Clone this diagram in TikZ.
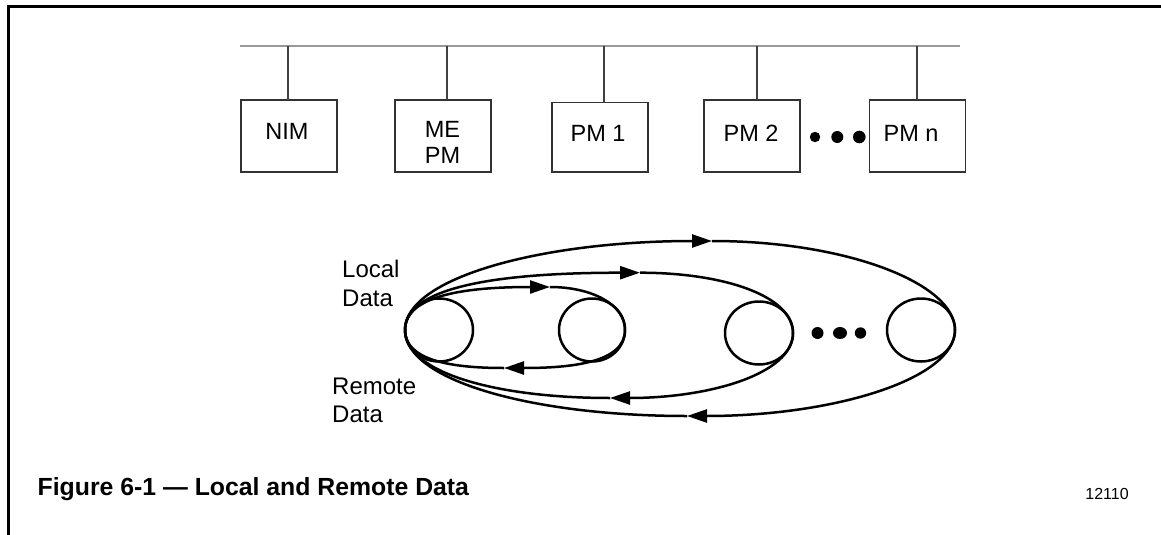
\documentclass[tikz,border=0pt]{standalone}
\usepackage{fontspec}
\setmainfont{Liberation Sans}
\usetikzlibrary{arrows.meta,shapes.geometric}

\begin{document}
\begin{tikzpicture}[x=1pt,y=-1pt,
  frame/.style={line width=3pt, line join=miter},
  bus/.style={draw=black!40, line width=2pt},
  drop/.style={draw=black!75, line width=1.1pt},
  box/.style={draw=black!80, line width=1.3pt, minimum width=96pt,
    minimum height=72pt, inner sep=0pt, outer sep=0pt},
  lbl/.style={font=\fontsize{23.5}{25.6}\selectfont, inner sep=0pt, align=center},
  side/.style={font=\fontsize{24}{28.4}\selectfont, inner sep=0pt, align=left},
  station/.style={ellipse, draw, line width=2.5pt, minimum width=68pt,
    minimum height=63pt, inner sep=0pt, outer sep=0pt},
  flow/.style={line width=2.5pt},
  tip/.style={-{Triangle[length=20pt,width=13pt]}}]

\useasboundingbox (0,0) rectangle (1161,535);

% page frame
\draw[frame] (1161,6.5) -- (8.5,6.5) -- (8.5,535);

% network bus with the modules hanging from it
\coordinate (busL) at (240,46);
\coordinate (busR) at (960,46);
\draw[bus] (busL) -- (busR);

\node[box] (nim) at (289,136) {};
\node[box] (mepm) at (443,136) {};
\node[box, minimum height=69.5pt] (pm1) at (600,137.25) {};
\node[box] (pm2) at (752,136) {};
\node[box] (pmn) at (917.5,136) {};

\node[lbl, anchor=base] (nimtxt) at (287,139.5) {NIM};
\node[lbl, anchor=south] (mepmtxt) at (442.5,163.3) {ME\\PM};
\node[lbl, anchor=base] (pm1txt) at (598,141.7) {PM 1};
\node[lbl, anchor=base] (pm2txt) at (751,141.7) {PM 2};
\node[lbl, anchor=base] (pmntxt) at (911,141.7) {PM n};

\coordinate (t1) at (288,46);
\coordinate (t2) at (447,46);
\coordinate (t3) at (604,46);
\coordinate (t4) at (757,46);
\coordinate (t5) at (917,46);
\draw[drop] (t1) -- (t1 |- nim.north);
\draw[drop] (t2) -- (t2 |- mepm.north);
\draw[drop] (t3) -- (t3 |- pm1.north);
\draw[drop] (t4) -- (t4 |- pm2.north);
\draw[drop] (t5) -- (t5 |- pmn.north);

\fill (815,137) circle[radius=5.2pt];
\fill (837.3,137) circle[radius=6pt];
\fill (859.3,137) circle[radius=6.3pt];

% data stations
\node[station] (c1) at (439,330) {};
\node[station, minimum width=66pt] (c2) at (592,330) {};
\node[station] (c3) at (759,333) {};
\node[station] (c4) at (921,330) {};

\fill (817.5,333) circle[radius=6pt];
\fill (840,333) ellipse[x radius=7pt, y radius=6pt];
\fill (860.5,333) circle[radius=5.7pt];

% outer loop: first station to the last one and back
\coordinate (ot) at (712,241);
\coordinate (ob) at (687,416);
\draw[flow, tip] (c1.west) .. controls +(0,-52.5) and +(-169,0) .. (ot);
\draw[flow] (ot) .. controls +(134,0) and +(0,-46.7) .. (c4.east);
\draw[flow, tip] (c4.east) .. controls +(0,49) and +(147,0) .. (ob);
\draw[flow] (ob) .. controls +(-155,0) and +(0,50.4) .. (c1.west);

% middle loop
\coordinate (mt) at (640,272.7);
\coordinate (mb) at (610,398);
\draw[flow, tip] (c1.west) .. controls +(0,-46) and +(-129,0) .. (mt);
\draw[flow] (mt) .. controls +(84,0) and +(0,-37) .. (c3.east);
\draw[flow, tip] (c3.east) .. controls +(0,40.7) and +(100,0) .. (mb);
\draw[flow] (mb) .. controls +(-113,0) and +(0,43) .. (c1.west);

% inner loop
\coordinate (it) at (550,287);
\coordinate (ib) at (504,368);
\draw[flow, tip] (c1.west) .. controls +(0,-36) and +(-80,0) .. (it);
\draw[flow] (it) .. controls +(41,0) and +(0,-26) .. (c2.east);
\draw[flow, tip] (c2.east) .. controls +(0,33) and +(66,0) .. (ib);
\draw[flow] (ib) .. controls +(-54,0) and +(0,30) .. (c1.west);

\node[side, anchor=south west] (local) at (342,306.7) {Local\\Data};
\node[side, anchor=south west] (remote) at (332,423.3) {Remote\\Data};

% caption and drawing number
\node[font=\bfseries\fontsize{24.8}{28}\selectfont, anchor=base west, inner sep=0pt]
  (caption) at (37.5,495.3) {Figure 6-1 — Local and Remote Data};
\node[font=\fontsize{16}{18}\selectfont, anchor=base, inner sep=0pt]
  (fignum) at (1107,499.3) {12110};
\end{tikzpicture}
\end{document}
